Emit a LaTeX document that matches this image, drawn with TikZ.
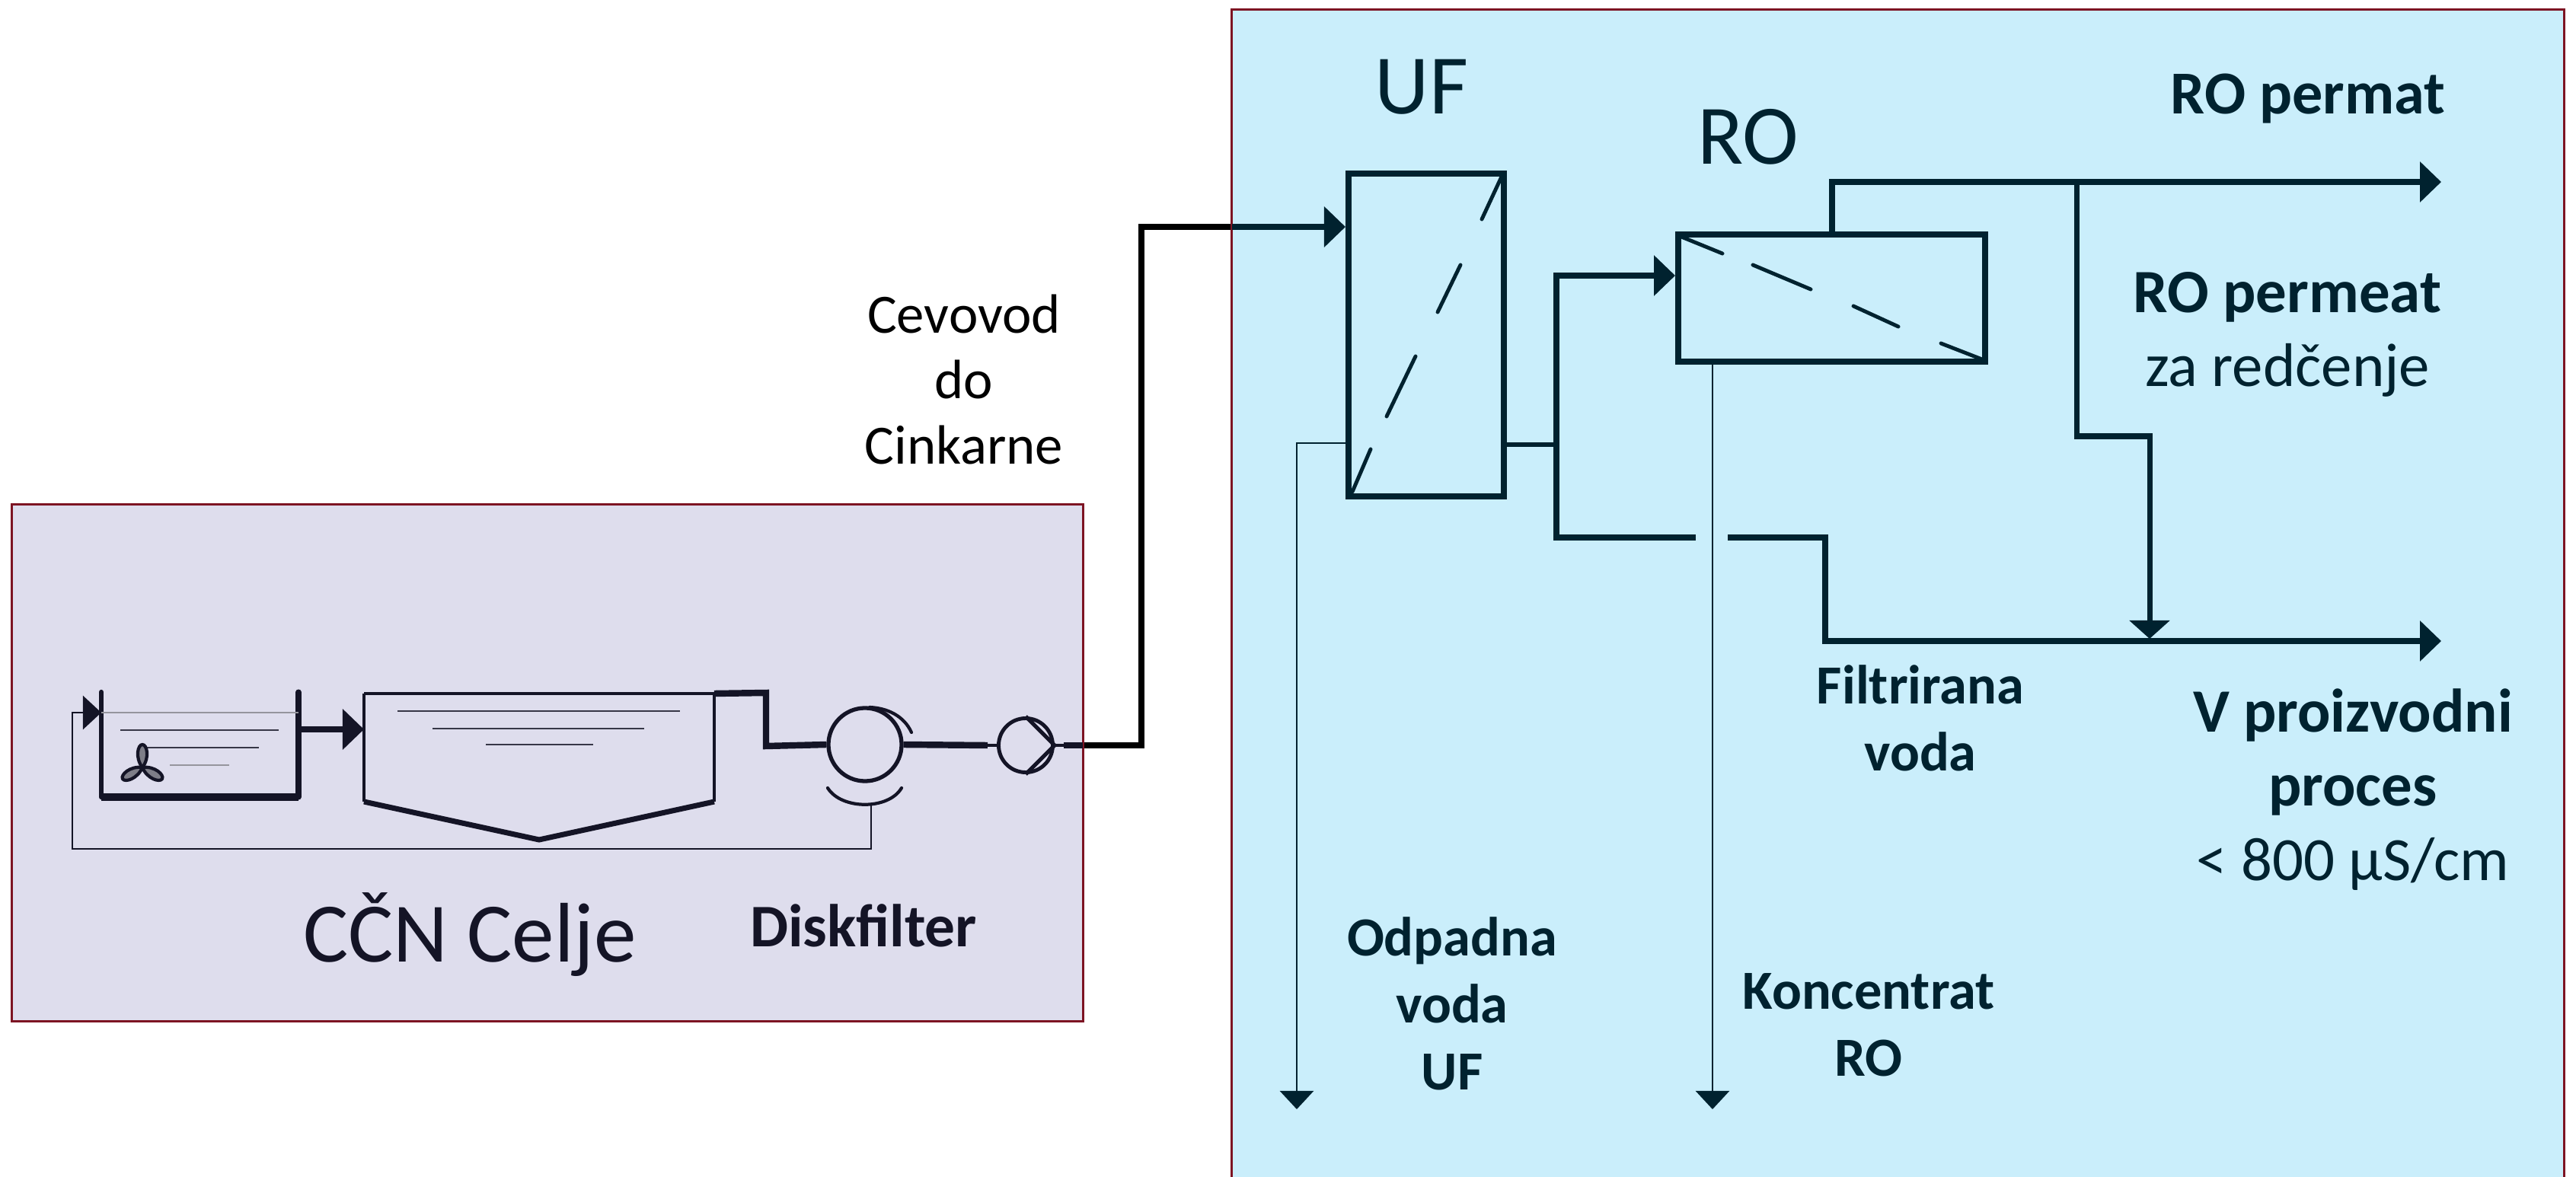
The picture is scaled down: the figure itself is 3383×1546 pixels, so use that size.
\documentclass[tikz,border=0pt]{standalone}
\usepackage{fontspec}
\setmainfont{Carlito}
\definecolor{ccnpurple}{RGB}{222,221,237}
\definecolor{ufblue}{RGB}{202,238,251}
\definecolor{framered}{RGB}{125,20,35}
\definecolor{navy}{RGB}{20,20,38}
\definecolor{deepteal}{RGB}{0,34,47}
\usetikzlibrary{arrows.meta,calc}

\begin{document}
\begin{tikzpicture}[
  x=0.01cm, y=-0.01cm,
  bighead/.style={-{Triangle[length=0.28cm,width=0.52cm]}},
  smallhead/.style={-{Triangle[length=0.24cm,width=0.44cm]}},
  panel/.style={draw=framered, line width=0.8pt, inner sep=0pt},
  membrane/.style={draw=deepteal, line width=2.4pt, fill=ufblue, inner sep=0pt},
  pipe/.style={line width=2.4pt, deepteal},
  pipeccn/.style={line width=2.4pt, navy},
  thinpipe/.style={line width=0.7pt, deepteal},
  thinccn/.style={line width=0.7pt, navy},
  level/.style={line width=0.8pt, navy!85},
  cut/.style={deepteal, line width=1.4pt, line cap=round},
  lbl/.style={font=\fontsize{20.7}{24.5}\selectfont, align=center, anchor=base, inner sep=0pt},
  lblb/.style={font=\bfseries\fontsize{20.6}{24.9}\selectfont, align=center, anchor=base, inner sep=0pt},
  lblside/.style={font=\fontsize{23}{27.6}\selectfont, align=center, anchor=base, inner sep=0pt},
  lblbig/.style={font=\fontsize{31.6}{36}\selectfont, anchor=base, inner sep=0pt}
]
\useasboundingbox (0,0) rectangle (3383,1546);

% Pipe between the two plants, behind the frames
\coordinate (pipelow) at (1499,979);
\coordinate (pipehigh) at (1499,298);
\draw[line width=2.3pt, black] (1422,979) -- (pipelow) -- (pipehigh) -- (1618,298);

% Panels
\node[panel, fill=ccnpurple, minimum width=14.06cm, minimum height=6.78cm] (ccnbg) at (719,1002) {};
\node[panel, fill=ufblue, minimum width=17.49cm, minimum height=15.47cm] (ufbg) at (2492.5,786.5) {};

% Aeration tank
\coordinate (tanktl) at (133,909);
\coordinate (tankbl) at (133,1047);
\coordinate (tankbr) at (392,1047);
\coordinate (tanktr) at (392,909);
\coordinate (tankin) at (133,936);
\coordinate (tankout) at (392,958);
\draw[line width=1.8pt, navy, line cap=round] (tanktl) -- (tankbl);
\draw[line width=2pt, navy, line cap=round] (tanktr) -- (tankbr);
\draw[line width=2.6pt, navy] (tankbl) -- (tankbr);
\draw[line width=0.8pt, navy!45] (tankin) -- (392,936);
\draw[level] (158,959) -- (366,959);
\draw[level] (189,982) -- (340,982);
\draw[line width=0.8pt, navy!45] (223,1005) -- (301,1005);

% Mixer
\foreach \a in {0,120,240} {
  \draw[line width=1.2pt, navy, fill=navy!55, shift={(187,1008)}, rotate=\a]
    (0,0) .. controls (-10,-13) and (-6,-30) .. (0,-30) .. controls (6,-30) and (10,-13) .. (0,0);
}

% Settling tank
\coordinate (settl) at (478,911);
\coordinate (setll) at (478,1053);
\coordinate (setbot) at (708,1103);
\coordinate (setlr) at (938,1053);
\coordinate (settr) at (938,911);
\coordinate (setin) at (478,958);
\draw[line width=1pt, navy] (settl) -- (settr);
\draw[line width=1.4pt, navy] (settl) -- (setll);
\draw[line width=1.4pt, navy] (settr) -- (setlr);
\draw[line width=2pt, navy] (setll) -- (setbot) -- (setlr);
\draw[level] (522,934) -- (893,934);
\draw[level] (568,957) -- (846,957);
\draw[level] (638,978) -- (779,978);

\draw[pipeccn, bighead] (tankout) -- (setin);

% Disk filter and pump
\node[circle, draw=navy, line width=1.5pt, minimum size=0.96cm, inner sep=0pt] (disc) at (1136,978) {};
\node[circle, draw=navy, line width=1.4pt, minimum size=0.71cm, inner sep=0pt] (pump) at (1347,979) {};
\draw[line width=1.5pt, navy] (pump.north) -- (pump.east) -- (pump.south);
\draw[line width=1.2pt, navy, line cap=round] (1142,929) .. controls (1165,930) and (1187,940) .. (1197,962);
\draw[line width=1.2pt, navy, line cap=round] (1087,1035) .. controls (1105,1064) and (1167,1064) .. (1184,1035);

\coordinate (weirtop) at (1006,910);
\coordinate (weirlow) at (1006,980);
\coordinate (discout) at (1297,979);
\coordinate (pumpout) at (1397,979);
\coordinate (ccnedge) at (1422,979);
\draw[pipeccn] (settr) -- (weirtop) -- (weirlow) -- (disc.west);
\draw[pipeccn] (disc.east) -- (discout);
\draw[line width=1pt, navy] (discout) -- (pump.west);
\draw[line width=1pt, navy] (pump.east) -- (pumpout);
\draw[pipeccn] (pumpout) -- (ccnedge);

% Sludge return
\coordinate (returnstart) at (1144,1057);
\coordinate (returnlow) at (95,1115);
\draw[thinccn, smallhead] (returnstart) |- (returnlow) |- (tankin);

% UF and RO
\node[membrane, minimum width=2.04cm, minimum height=4.24cm] (uf) at (1873,440) {};
\node[membrane, minimum width=4.03cm, minimum height=1.67cm] (ro) at (2405.5,391.5) {};
\draw[cut] (1776,646) -- (1800,590) (1821,547) -- (1859,468) (1888,410) -- (1918,348) (1946,288) -- (1972,232);
\draw[cut] (2208,311) -- (2262,333) (2302,348) -- (2378,380) (2434,402) -- (2493,429) (2549,451) -- (2603,472);

% Flows inside the blue panel
\coordinate (ufbgin) at (1618,298);
\coordinate (ufin) at (1767,298);
\draw[line width=2.3pt, deepteal, bighead] (ufbgin) -- (ufin);

\coordinate (ufout) at (1978,584);
\coordinate (split) at (2044,584);
\coordinate (roin) at (2200,362);
\coordinate (gapl) at (2227,706);
\coordinate (gapr) at (2269,706);
\coordinate (bend) at (2397,842);
\coordinate (outfilt) at (3206,842);
\draw[line width=1.8pt, deepteal] (ufout) -- (split);
\draw[pipe, bighead] (split) |- (roin);
\draw[pipe] (split) |- (gapl);
\draw[pipe, bighead] (gapr) -| (bend) -- (outfilt);

\coordinate (roout) at (2406,304);
\coordinate (roturn) at (2406,239);
\coordinate (tap) at (2727,239);
\coordinate (outperm) at (3206,239);
\coordinate (tapturn) at (2727,573);
\coordinate (dilute) at (2823,839);
\draw[pipe, bighead] (roout) -- (roturn) -- (outperm);
\draw[line width=2pt, deepteal, -{Triangle[length=0.24cm,width=0.52cm]}] (tap) -- (tapturn) -| (dilute);

\coordinate (ufwaste) at (1767,582);
\coordinate (wasteend) at (1703,1457);
\coordinate (rowaste) at (2249,479);
\coordinate (conend) at (2249,1457);
\draw[thinpipe, smallhead] (ufwaste) -| (wasteend);
\draw[thinpipe, smallhead] (rowaste) -- (conend);

% Labels
\node[lbl, text=black] (pipelbl) at (1266,610) {Cevovod\\do\\Cinkarne};
\node[lblbig, text=navy] (ccnlbl) at (617,1263) {CČN Celje};
\node[lblb, text=navy, font=\bfseries\fontsize{22.6}{25}\selectfont] (disklbl) at (1134,1243) {Diskfilter};
\node[lblbig, text=deepteal] (uflbl) at (1867,150) {UF};
\node[lblbig, text=deepteal] (rolbl) at (2296,216) {RO};
\node[lblside, text=deepteal, font=\bfseries\fontsize{22.8}{27.6}\selectfont] (permlbl) at (3031,150) {RO permat};
\node[lblside, text=deepteal] (dillbl) at (3004,508) {\textbf{RO permeat}\\za redčenje};
\node[lblside, text=deepteal] (proclbl) at (3090,1156) {\textbf{V proizvodni}\\\textbf{proces}\\< 800 µS/cm};
\node[lblb, text=deepteal] (filtlbl) at (2522,1012) {Filtrirana\\voda};
\node[lblb, text=deepteal] (wastelbl) at (1907,1431) {Odpadna\\voda\\UF};
\node[lblb, text=deepteal] (conlbl) at (2454,1413) {Koncentrat\\RO};
\end{tikzpicture}
\end{document}
